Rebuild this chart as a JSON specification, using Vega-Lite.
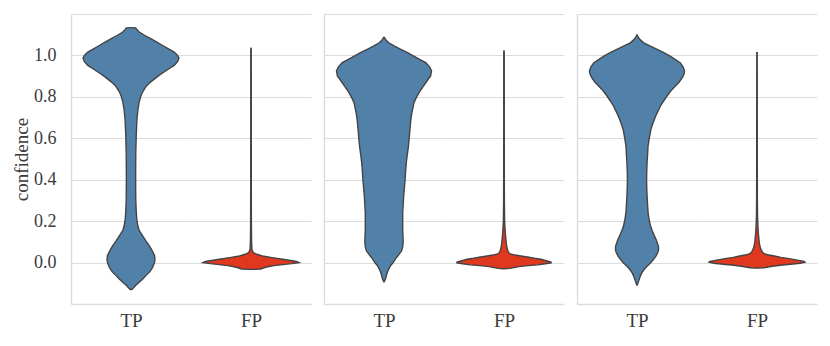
{
  "$schema": "https://vega.github.io/schema/vega-lite/v6.json",
  "padding": {"left": 12, "top": 14, "right": 5, "bottom": 5},
  "config": {
    "font": "Liberation Serif, DejaVu Serif, serif",
    "view": {"stroke": null},
    "axis": {
      "gridColor": "#dcdcdc", "gridWidth": 1.2, "domainColor": "#dcdcdc", "domainWidth": 1.4,
      "ticks": false, "labelFont": "Liberation Serif, DejaVu Serif, serif", "labelFontSize": 18, "labelColor": "#3b3b3b",
      "titleFont": "Liberation Serif, DejaVu Serif, serif", "titleFontSize": 19, "titleColor": "#3b3b3b", "titleFontWeight": "normal"
    },
    "area": {"orient": "horizontal"},
    "line": {"color": "#444444", "strokeWidth": 1.4}
  },
  "data": {"values": [
    {"p":1,"c":"TP","y":-0.132,"w":0},{"p":1,"c":"TP","y":-0.127,"w":0.03},{"p":1,"c":"TP","y":-0.11,"w":0.1},{"p":1,"c":"TP","y":-0.095,"w":0.17},{"p":1,"c":"TP","y":-0.078,"w":0.25},{"p":1,"c":"TP","y":-0.063,"w":0.31},{"p":1,"c":"TP","y":-0.045,"w":0.39},{"p":1,"c":"TP","y":-0.023,"w":0.45},{"p":1,"c":"TP","y":0.0,"w":0.49},{"p":1,"c":"TP","y":0.015,"w":0.5},{"p":1,"c":"TP","y":0.034,"w":0.49},{"p":1,"c":"TP","y":0.058,"w":0.44},{"p":1,"c":"TP","y":0.082,"w":0.38},{"p":1,"c":"TP","y":0.105,"w":0.31},{"p":1,"c":"TP","y":0.13,"w":0.24},{"p":1,"c":"TP","y":0.155,"w":0.17},{"p":1,"c":"TP","y":0.18,"w":0.14},{"p":1,"c":"TP","y":0.21,"w":0.12},{"p":1,"c":"TP","y":0.243,"w":0.11},{"p":1,"c":"TP","y":0.3,"w":0.1},{"p":1,"c":"TP","y":0.372,"w":0.097},{"p":1,"c":"TP","y":0.45,"w":0.097},{"p":1,"c":"TP","y":0.533,"w":0.1},{"p":1,"c":"TP","y":0.62,"w":0.11},{"p":1,"c":"TP","y":0.694,"w":0.125},{"p":1,"c":"TP","y":0.74,"w":0.145},{"p":1,"c":"TP","y":0.775,"w":0.17},{"p":1,"c":"TP","y":0.8,"w":0.2},{"p":1,"c":"TP","y":0.823,"w":0.24},{"p":1,"c":"TP","y":0.84,"w":0.285},{"p":1,"c":"TP","y":0.855,"w":0.33},{"p":1,"c":"TP","y":0.87,"w":0.4},{"p":1,"c":"TP","y":0.887,"w":0.49},{"p":1,"c":"TP","y":0.905,"w":0.59},{"p":1,"c":"TP","y":0.92,"w":0.69},{"p":1,"c":"TP","y":0.937,"w":0.8},{"p":1,"c":"TP","y":0.952,"w":0.9},{"p":1,"c":"TP","y":0.97,"w":0.97},{"p":1,"c":"TP","y":0.987,"w":1.0},{"p":1,"c":"TP","y":1.0,"w":0.97},{"p":1,"c":"TP","y":1.016,"w":0.9},{"p":1,"c":"TP","y":1.032,"w":0.78},{"p":1,"c":"TP","y":1.048,"w":0.66},{"p":1,"c":"TP","y":1.064,"w":0.54},{"p":1,"c":"TP","y":1.08,"w":0.42},{"p":1,"c":"TP","y":1.095,"w":0.3},{"p":1,"c":"TP","y":1.113,"w":0.17},{"p":1,"c":"TP","y":1.128,"w":0.11},{"p":1,"c":"TP","y":1.133,"w":0.1},{"p":1,"c":"TP","y":1.134,"w":0},
    {"p":1,"c":"FP","y":-0.033,"w":0},{"p":1,"c":"FP","y":-0.031,"w":0.2},{"p":1,"c":"FP","y":-0.025,"w":0.27},{"p":1,"c":"FP","y":-0.02,"w":0.35},{"p":1,"c":"FP","y":-0.015,"w":0.48},{"p":1,"c":"FP","y":-0.01,"w":0.66},{"p":1,"c":"FP","y":-0.005,"w":0.85},{"p":1,"c":"FP","y":0.0,"w":1.0},{"p":1,"c":"FP","y":0.005,"w":0.95},{"p":1,"c":"FP","y":0.01,"w":0.82},{"p":1,"c":"FP","y":0.016,"w":0.66},{"p":1,"c":"FP","y":0.024,"w":0.44},{"p":1,"c":"FP","y":0.032,"w":0.24},{"p":1,"c":"FP","y":0.04,"w":0.12},{"p":1,"c":"FP","y":0.048,"w":0.05},{"p":1,"c":"FP","y":0.056,"w":0.03},{"p":1,"c":"FP","y":0.064,"w":0.02},{"p":1,"c":"FP","y":0.1,"w":0.012},{"p":1,"c":"FP","y":0.2,"w":0.008},{"p":1,"c":"FP","y":0.4,"w":0.006},{"p":1,"c":"FP","y":0.6,"w":0.005},{"p":1,"c":"FP","y":0.8,"w":0.005},{"p":1,"c":"FP","y":1.0,"w":0.004},{"p":1,"c":"FP","y":1.037,"w":0},
    {"p":2,"c":"TP","y":-0.095,"w":0},{"p":2,"c":"TP","y":-0.08,"w":0.03},{"p":2,"c":"TP","y":-0.063,"w":0.05},{"p":2,"c":"TP","y":-0.047,"w":0.07},{"p":2,"c":"TP","y":-0.03,"w":0.1},{"p":2,"c":"TP","y":-0.014,"w":0.14},{"p":2,"c":"TP","y":0.0,"w":0.19},{"p":2,"c":"TP","y":0.018,"w":0.24},{"p":2,"c":"TP","y":0.038,"w":0.31},{"p":2,"c":"TP","y":0.058,"w":0.37},{"p":2,"c":"TP","y":0.078,"w":0.39},{"p":2,"c":"TP","y":0.098,"w":0.4},{"p":2,"c":"TP","y":0.13,"w":0.395},{"p":2,"c":"TP","y":0.162,"w":0.39},{"p":2,"c":"TP","y":0.2,"w":0.39},{"p":2,"c":"TP","y":0.242,"w":0.39},{"p":2,"c":"TP","y":0.28,"w":0.4},{"p":2,"c":"TP","y":0.323,"w":0.41},{"p":2,"c":"TP","y":0.36,"w":0.425},{"p":2,"c":"TP","y":0.403,"w":0.44},{"p":2,"c":"TP","y":0.44,"w":0.45},{"p":2,"c":"TP","y":0.483,"w":0.465},{"p":2,"c":"TP","y":0.52,"w":0.485},{"p":2,"c":"TP","y":0.563,"w":0.51},{"p":2,"c":"TP","y":0.6,"w":0.525},{"p":2,"c":"TP","y":0.644,"w":0.54},{"p":2,"c":"TP","y":0.68,"w":0.555},{"p":2,"c":"TP","y":0.708,"w":0.57},{"p":2,"c":"TP","y":0.74,"w":0.595},{"p":2,"c":"TP","y":0.772,"w":0.625},{"p":2,"c":"TP","y":0.795,"w":0.67},{"p":2,"c":"TP","y":0.82,"w":0.73},{"p":2,"c":"TP","y":0.845,"w":0.8},{"p":2,"c":"TP","y":0.868,"w":0.87},{"p":2,"c":"TP","y":0.885,"w":0.92},{"p":2,"c":"TP","y":0.9,"w":0.97},{"p":2,"c":"TP","y":0.925,"w":0.99},{"p":2,"c":"TP","y":0.945,"w":0.95},{"p":2,"c":"TP","y":0.965,"w":0.87},{"p":2,"c":"TP","y":0.98,"w":0.75},{"p":2,"c":"TP","y":0.997,"w":0.62},{"p":2,"c":"TP","y":1.013,"w":0.49},{"p":2,"c":"TP","y":1.029,"w":0.35},{"p":2,"c":"TP","y":1.045,"w":0.22},{"p":2,"c":"TP","y":1.061,"w":0.1},{"p":2,"c":"TP","y":1.075,"w":0.04},{"p":2,"c":"TP","y":1.09,"w":0},
    {"p":2,"c":"FP","y":-0.03,"w":0},{"p":2,"c":"FP","y":-0.028,"w":0.13},{"p":2,"c":"FP","y":-0.021,"w":0.28},{"p":2,"c":"FP","y":-0.016,"w":0.45},{"p":2,"c":"FP","y":-0.011,"w":0.7},{"p":2,"c":"FP","y":-0.006,"w":0.86},{"p":2,"c":"FP","y":-0.002,"w":0.98},{"p":2,"c":"FP","y":0.003,"w":0.98},{"p":2,"c":"FP","y":0.009,"w":0.88},{"p":2,"c":"FP","y":0.016,"w":0.77},{"p":2,"c":"FP","y":0.021,"w":0.63},{"p":2,"c":"FP","y":0.027,"w":0.49},{"p":2,"c":"FP","y":0.033,"w":0.32},{"p":2,"c":"FP","y":0.037,"w":0.22},{"p":2,"c":"FP","y":0.04,"w":0.15},{"p":2,"c":"FP","y":0.045,"w":0.11},{"p":2,"c":"FP","y":0.056,"w":0.08},{"p":2,"c":"FP","y":0.07,"w":0.065},{"p":2,"c":"FP","y":0.089,"w":0.05},{"p":2,"c":"FP","y":0.11,"w":0.04},{"p":2,"c":"FP","y":0.137,"w":0.03},{"p":2,"c":"FP","y":0.17,"w":0.02},{"p":2,"c":"FP","y":0.2,"w":0.013},{"p":2,"c":"FP","y":0.3,"w":0.008},{"p":2,"c":"FP","y":0.5,"w":0.006},{"p":2,"c":"FP","y":0.7,"w":0.005},{"p":2,"c":"FP","y":0.9,"w":0.005},{"p":2,"c":"FP","y":1.0,"w":0.004},{"p":2,"c":"FP","y":1.024,"w":0},
    {"p":3,"c":"TP","y":-0.111,"w":0},{"p":3,"c":"TP","y":-0.095,"w":0.025},{"p":3,"c":"TP","y":-0.071,"w":0.06},{"p":3,"c":"TP","y":-0.05,"w":0.1},{"p":3,"c":"TP","y":-0.03,"w":0.16},{"p":3,"c":"TP","y":-0.015,"w":0.22},{"p":3,"c":"TP","y":0.0,"w":0.29},{"p":3,"c":"TP","y":0.017,"w":0.35},{"p":3,"c":"TP","y":0.034,"w":0.4},{"p":3,"c":"TP","y":0.05,"w":0.435},{"p":3,"c":"TP","y":0.066,"w":0.45},{"p":3,"c":"TP","y":0.08,"w":0.445},{"p":3,"c":"TP","y":0.09,"w":0.43},{"p":3,"c":"TP","y":0.11,"w":0.4},{"p":3,"c":"TP","y":0.13,"w":0.36},{"p":3,"c":"TP","y":0.155,"w":0.315},{"p":3,"c":"TP","y":0.178,"w":0.28},{"p":3,"c":"TP","y":0.21,"w":0.25},{"p":3,"c":"TP","y":0.242,"w":0.23},{"p":3,"c":"TP","y":0.28,"w":0.22},{"p":3,"c":"TP","y":0.323,"w":0.21},{"p":3,"c":"TP","y":0.36,"w":0.203},{"p":3,"c":"TP","y":0.403,"w":0.2},{"p":3,"c":"TP","y":0.44,"w":0.203},{"p":3,"c":"TP","y":0.483,"w":0.21},{"p":3,"c":"TP","y":0.52,"w":0.22},{"p":3,"c":"TP","y":0.563,"w":0.23},{"p":3,"c":"TP","y":0.6,"w":0.255},{"p":3,"c":"TP","y":0.644,"w":0.29},{"p":3,"c":"TP","y":0.675,"w":0.335},{"p":3,"c":"TP","y":0.708,"w":0.39},{"p":3,"c":"TP","y":0.73,"w":0.435},{"p":3,"c":"TP","y":0.756,"w":0.49},{"p":3,"c":"TP","y":0.78,"w":0.555},{"p":3,"c":"TP","y":0.804,"w":0.625},{"p":3,"c":"TP","y":0.83,"w":0.71},{"p":3,"c":"TP","y":0.852,"w":0.8},{"p":3,"c":"TP","y":0.872,"w":0.88},{"p":3,"c":"TP","y":0.892,"w":0.94},{"p":3,"c":"TP","y":0.91,"w":0.98},{"p":3,"c":"TP","y":0.925,"w":0.99},{"p":3,"c":"TP","y":0.945,"w":0.96},{"p":3,"c":"TP","y":0.965,"w":0.9},{"p":3,"c":"TP","y":0.98,"w":0.8},{"p":3,"c":"TP","y":0.997,"w":0.69},{"p":3,"c":"TP","y":1.013,"w":0.56},{"p":3,"c":"TP","y":1.029,"w":0.42},{"p":3,"c":"TP","y":1.045,"w":0.28},{"p":3,"c":"TP","y":1.061,"w":0.14},{"p":3,"c":"TP","y":1.075,"w":0.07},{"p":3,"c":"TP","y":1.088,"w":0.025},{"p":3,"c":"TP","y":1.101,"w":0},
    {"p":3,"c":"FP","y":-0.027,"w":0},{"p":3,"c":"FP","y":-0.025,"w":0.15},{"p":3,"c":"FP","y":-0.019,"w":0.29},{"p":3,"c":"FP","y":-0.013,"w":0.48},{"p":3,"c":"FP","y":-0.008,"w":0.7},{"p":3,"c":"FP","y":-0.003,"w":0.9},{"p":3,"c":"FP","y":0.002,"w":1.0},{"p":3,"c":"FP","y":0.006,"w":0.98},{"p":3,"c":"FP","y":0.012,"w":0.84},{"p":3,"c":"FP","y":0.019,"w":0.67},{"p":3,"c":"FP","y":0.025,"w":0.5},{"p":3,"c":"FP","y":0.032,"w":0.36},{"p":3,"c":"FP","y":0.038,"w":0.22},{"p":3,"c":"FP","y":0.043,"w":0.15},{"p":3,"c":"FP","y":0.048,"w":0.12},{"p":3,"c":"FP","y":0.056,"w":0.1},{"p":3,"c":"FP","y":0.065,"w":0.08},{"p":3,"c":"FP","y":0.08,"w":0.06},{"p":3,"c":"FP","y":0.1,"w":0.045},{"p":3,"c":"FP","y":0.137,"w":0.03},{"p":3,"c":"FP","y":0.17,"w":0.02},{"p":3,"c":"FP","y":0.22,"w":0.012},{"p":3,"c":"FP","y":0.3,"w":0.008},{"p":3,"c":"FP","y":0.5,"w":0.006},{"p":3,"c":"FP","y":0.7,"w":0.005},{"p":3,"c":"FP","y":0.9,"w":0.004},{"p":3,"c":"FP","y":1.016,"w":0}
  ]},
  "spacing": 13,
  "hconcat": [
    {"spacing": 0, "hconcat": [
      {"width": 120, "height": 290, "transform": [{"filter": "datum.p == 1 && datum.c == 'TP'"}],
       "encoding": {"y": {"field": "y", "type": "quantitative", "scale": {"domain": [-0.2, 1.2], "nice": false, "zero": false},
         "axis": {"title": "confidence", "values": [0, 0.2, 0.4, 0.6, 0.8, 1.0, 1.2], "labelExpr": "datum.value > 1.1 ? '' : format(datum.value, '.1f')", "labelPadding": 15, "titlePadding": 2}}},
       "layer": [
         {"mark": {"type": "area", "color": "#5181a8"}, "encoding": {"x": {"field": "w", "type": "quantitative", "stack": null, "scale": {"domain": [-1.25, 1.25]}, "axis": {"title": "TP", "labels": false, "grid": false, "titlePadding": 7}}}},
         {"mark": {"type": "area", "color": "#5181a8"}, "encoding": {"x": {"field": "w", "type": "quantitative", "stack": null, "scale": {"domain": [-1.25, 1.25], "reverse": true}, "axis": null}}},
         {"mark": "line", "encoding": {"x": {"field": "w", "type": "quantitative", "scale": {"domain": [-1.25, 1.25]}, "axis": null}, "order": {"field": "y", "type": "quantitative"}}},
         {"mark": "line", "encoding": {"x": {"field": "w", "type": "quantitative", "scale": {"domain": [-1.25, 1.25], "reverse": true}, "axis": null}, "order": {"field": "y", "type": "quantitative"}}}
       ],
       "resolve": {"scale": {"x": "independent"}}},
      {"width": 120, "height": 290, "transform": [{"filter": "datum.p == 1 && datum.c == 'FP'"}],
       "encoding": {"y": {"field": "y", "type": "quantitative", "scale": {"domain": [-0.2, 1.2], "nice": false, "zero": false},
         "axis": {"title": null, "labels": false, "domain": false, "values": [0, 0.2, 0.4, 0.6, 0.8, 1.0, 1.2]}}},
       "layer": [
         {"mark": {"type": "area", "color": "#e0371f"}, "encoding": {"x": {"field": "w", "type": "quantitative", "stack": null, "scale": {"domain": [-1.25, 1.25]}, "axis": {"title": "FP", "labels": false, "grid": false, "titlePadding": 7}}}},
         {"mark": {"type": "area", "color": "#e0371f"}, "encoding": {"x": {"field": "w", "type": "quantitative", "stack": null, "scale": {"domain": [-1.25, 1.25], "reverse": true}, "axis": null}}},
         {"mark": "line", "encoding": {"x": {"field": "w", "type": "quantitative", "scale": {"domain": [-1.25, 1.25]}, "axis": null}, "order": {"field": "y", "type": "quantitative"}}},
         {"mark": "line", "encoding": {"x": {"field": "w", "type": "quantitative", "scale": {"domain": [-1.25, 1.25], "reverse": true}, "axis": null}, "order": {"field": "y", "type": "quantitative"}}}
       ],
       "resolve": {"scale": {"x": "independent"}}}
    ]},
    {"spacing": 0, "hconcat": [
      {"width": 120, "height": 290, "transform": [{"filter": "datum.p == 2 && datum.c == 'TP'"}],
       "encoding": {"y": {"field": "y", "type": "quantitative", "scale": {"domain": [-0.2, 1.2], "nice": false, "zero": false},
         "axis": {"title": null, "labels": false, "values": [0, 0.2, 0.4, 0.6, 0.8, 1.0, 1.2]}}},
       "layer": [
         {"mark": {"type": "area", "color": "#5181a8"}, "encoding": {"x": {"field": "w", "type": "quantitative", "stack": null, "scale": {"domain": [-1.25, 1.25]}, "axis": {"title": "TP", "labels": false, "grid": false, "titlePadding": 7}}}},
         {"mark": {"type": "area", "color": "#5181a8"}, "encoding": {"x": {"field": "w", "type": "quantitative", "stack": null, "scale": {"domain": [-1.25, 1.25], "reverse": true}, "axis": null}}},
         {"mark": "line", "encoding": {"x": {"field": "w", "type": "quantitative", "scale": {"domain": [-1.25, 1.25]}, "axis": null}, "order": {"field": "y", "type": "quantitative"}}},
         {"mark": "line", "encoding": {"x": {"field": "w", "type": "quantitative", "scale": {"domain": [-1.25, 1.25], "reverse": true}, "axis": null}, "order": {"field": "y", "type": "quantitative"}}}
       ],
       "resolve": {"scale": {"x": "independent"}}},
      {"width": 120, "height": 290, "transform": [{"filter": "datum.p == 2 && datum.c == 'FP'"}],
       "encoding": {"y": {"field": "y", "type": "quantitative", "scale": {"domain": [-0.2, 1.2], "nice": false, "zero": false},
         "axis": {"title": null, "labels": false, "domain": false, "values": [0, 0.2, 0.4, 0.6, 0.8, 1.0, 1.2]}}},
       "layer": [
         {"mark": {"type": "area", "color": "#e0371f"}, "encoding": {"x": {"field": "w", "type": "quantitative", "stack": null, "scale": {"domain": [-1.25, 1.25]}, "axis": {"title": "FP", "labels": false, "grid": false, "titlePadding": 7}}}},
         {"mark": {"type": "area", "color": "#e0371f"}, "encoding": {"x": {"field": "w", "type": "quantitative", "stack": null, "scale": {"domain": [-1.25, 1.25], "reverse": true}, "axis": null}}},
         {"mark": "line", "encoding": {"x": {"field": "w", "type": "quantitative", "scale": {"domain": [-1.25, 1.25]}, "axis": null}, "order": {"field": "y", "type": "quantitative"}}},
         {"mark": "line", "encoding": {"x": {"field": "w", "type": "quantitative", "scale": {"domain": [-1.25, 1.25], "reverse": true}, "axis": null}, "order": {"field": "y", "type": "quantitative"}}}
       ],
       "resolve": {"scale": {"x": "independent"}}}
    ]},
    {"spacing": 0, "hconcat": [
      {"width": 120, "height": 290, "transform": [{"filter": "datum.p == 3 && datum.c == 'TP'"}],
       "encoding": {"y": {"field": "y", "type": "quantitative", "scale": {"domain": [-0.2, 1.2], "nice": false, "zero": false},
         "axis": {"title": null, "labels": false, "values": [0, 0.2, 0.4, 0.6, 0.8, 1.0, 1.2]}}},
       "layer": [
         {"mark": {"type": "area", "color": "#5181a8"}, "encoding": {"x": {"field": "w", "type": "quantitative", "stack": null, "scale": {"domain": [-1.25, 1.25]}, "axis": {"title": "TP", "labels": false, "grid": false, "titlePadding": 7}}}},
         {"mark": {"type": "area", "color": "#5181a8"}, "encoding": {"x": {"field": "w", "type": "quantitative", "stack": null, "scale": {"domain": [-1.25, 1.25], "reverse": true}, "axis": null}}},
         {"mark": "line", "encoding": {"x": {"field": "w", "type": "quantitative", "scale": {"domain": [-1.25, 1.25]}, "axis": null}, "order": {"field": "y", "type": "quantitative"}}},
         {"mark": "line", "encoding": {"x": {"field": "w", "type": "quantitative", "scale": {"domain": [-1.25, 1.25], "reverse": true}, "axis": null}, "order": {"field": "y", "type": "quantitative"}}}
       ],
       "resolve": {"scale": {"x": "independent"}}},
      {"width": 120, "height": 290, "transform": [{"filter": "datum.p == 3 && datum.c == 'FP'"}],
       "encoding": {"y": {"field": "y", "type": "quantitative", "scale": {"domain": [-0.2, 1.2], "nice": false, "zero": false},
         "axis": {"title": null, "labels": false, "domain": false, "values": [0, 0.2, 0.4, 0.6, 0.8, 1.0, 1.2]}}},
       "layer": [
         {"mark": {"type": "area", "color": "#e0371f"}, "encoding": {"x": {"field": "w", "type": "quantitative", "stack": null, "scale": {"domain": [-1.25, 1.25]}, "axis": {"title": "FP", "labels": false, "grid": false, "titlePadding": 7}}}},
         {"mark": {"type": "area", "color": "#e0371f"}, "encoding": {"x": {"field": "w", "type": "quantitative", "stack": null, "scale": {"domain": [-1.25, 1.25], "reverse": true}, "axis": null}}},
         {"mark": "line", "encoding": {"x": {"field": "w", "type": "quantitative", "scale": {"domain": [-1.25, 1.25]}, "axis": null}, "order": {"field": "y", "type": "quantitative"}}},
         {"mark": "line", "encoding": {"x": {"field": "w", "type": "quantitative", "scale": {"domain": [-1.25, 1.25], "reverse": true}, "axis": null}, "order": {"field": "y", "type": "quantitative"}}}
       ],
       "resolve": {"scale": {"x": "independent"}}}
    ]}
  ]
}
